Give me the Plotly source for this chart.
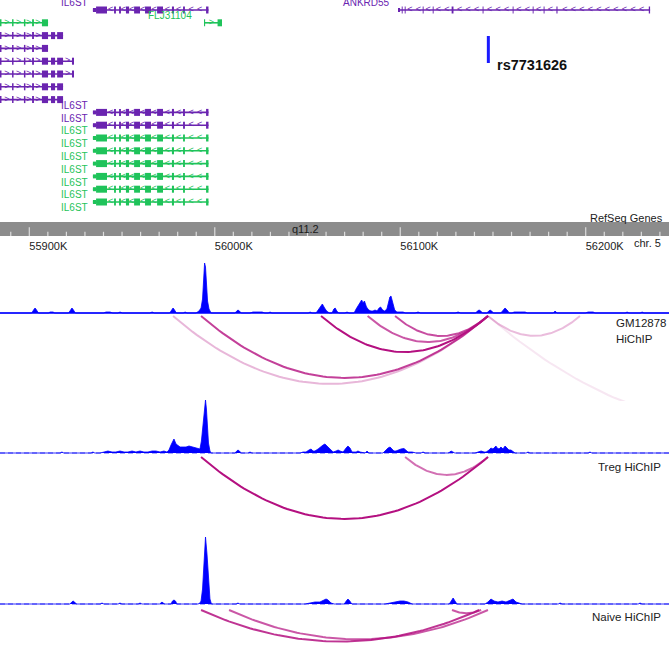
import plotly.graph_objects as go

# ============================ DATA ============================
X_RANGE = [55884.2, 56244.9]                      # kb, chr5 (hg38)
RULER_TICKS = [55900, 56000, 56100, 56200]
RULER_LABELS = ["55900K", "56000K", "56100K", "56200K"]
RULER_MINOR_STEP = 10
CHROM_LABEL = "chr. 5"
BAND_LABEL = "q11.2"

SNP_NAME = "rs7731626"
SNP_POS = 56147.5

# ---- RefSeq gene models (kb) ----
IL6ST_SPAN = [55934.3, 55996.6]
IL6ST_UTR = [[55934.3, 55936.0]]
IL6ST_EXONS = [[55936.0, 55941.9], [55945.7, 55946.7], [55948.4, 55949.4],
               [55952.1, 55953.8], [55956.5, 55959.7], [55962.4, 55965.6],
               [55968.9, 55972.1], [55976.9, 55978.0], [55982.9, 55983.9],
               [55995.3, 55996.6]]
IL6ST_ROWS = [0, 8, 9, 10, 11, 12, 13, 14, 15]
IL6ST_COLORS = ["purple", "purple", "purple", "green", "green", "green",
                "green", "green", "green"]
IL6ST_LABEL_ROWS = [0, 8, 9, 10, 11, 12, 13, 14, 15, 16]
IL6ST_LABEL_COLORS = ["purple", "purple", "purple", "green", "green", "green",
                      "green", "green", "green", "green"]

ANKRD55_SPAN = [56098.8, 56234.7]
ANKRD55_UTR = [[56098.8, 56099.9]]
ANKRD55_EXONS = [[56100.8, 56101.3], [56102.4, 56102.9], [56112.1, 56112.6],
                 [56117.5, 56118.0], [56127.7, 56128.7], [56144.4, 56144.9],
                 [56160.6, 56161.1], [56171.4, 56171.9], [56177.3, 56177.8],
                 [56184.2, 56184.8], [56234.0, 56234.7]]
ANKRD55_ROW = 0

FLJ_SPAN = [55994.2, 56003.9]
FLJ_EXONS = [[55994.2, 55994.8], [56001.5, 56003.9]]
FLJ_ROW = 1

LEFT_GENE_START = 55870.0
LEFT_ROWS = [1, 2, 3, 4, 5, 6, 7]
LEFT_COLORS = ["green", "purple", "purple", "purple", "purple", "purple", "purple"]
LEFT_ENDS = [55910.1, 55918.2, 55910.1, 55924.1, 55924.1, 55918.2, 55918.2]
LEFT_EXONS = [[55884.0, 55885.0], [55890.7, 55891.5], [55897.1, 55897.9],
              [55901.5, 55902.5], [55906.8, 55910.1], [55911.7, 55913.9],
              [55915.0, 55918.2], [55923.0, 55924.1]]

# ---- HiChIP coverage (signal) ----
GM_X = [55884.2,
        55901.3, 55902.3, 55903.1, 55903.9, 55904.9,
        55910.3, 55911.2, 55912.8, 55913.7,
        55921.2, 55922.2, 55923.0, 55923.8, 55924.8,
        55940.0, 55941.4, 55943.5, 55945.0,
        55947.8, 55948.9, 55950.2,
        55965.0, 55966.2, 55967.5,
        55975.7, 55976.7, 55977.5, 55978.3, 55979.3,
        55983.0, 55984.0, 55985.0,
        55989.9, 55991.5, 55992.6, 55993.4, 55993.9, 55994.5, 55995.0, 55995.5,
        55996.1, 55996.9, 55998.0,
        56010.8, 56011.7, 56012.5, 56013.3, 56014.2,
        56019.0, 56020.6, 56025.5, 56027.0,
        56028.8, 56029.8, 56030.8,
        56050.4, 56051.4, 56052.4,
        56054.6, 56056.2, 56057.3, 56058.0, 56059.2, 56060.3, 56061.8,
        56063.2, 56064.2, 56064.9, 56065.8, 56066.8,
        56070.2, 56071.3, 56072.4,
        56075.1, 56076.2, 56077.2, 56078.3, 56079.2, 56079.9, 56080.7, 56081.8,
        56083.0, 56084.2, 56085.3, 56086.4, 56087.5, 56088.6, 56089.4, 56090.5,
        56091.6, 56092.8, 56093.8, 56094.4, 56095.0, 56095.9, 56097.0, 56098.2,
        56099.9, 56101.5, 56102.8,
        56108.0, 56109.6, 56111.0,
        56129.6, 56131.2, 56132.6,
        56140.7, 56141.6, 56142.5, 56143.4, 56144.3,
        56146.6, 56147.5, 56148.4, 56149.3, 56150.2,
        56154.2, 56155.4, 56156.5, 56157.6, 56158.8,
        56160.3, 56161.4, 56164.6, 56167.3, 56168.6,
        56182.5, 56183.5, 56184.5,
        56199.8, 56201.3, 56204.0, 56205.0,
        56221.3, 56222.3, 56223.3,
        56229.4, 56230.4, 56231.4,
        56244.9]
GM_Y = [0,
        0, 3, 5, 3, 0,
        0, 1, 1, 0,
        0, 3, 5, 3, 0,
        0, 1, 1, 0,
        0, 1, 0,
        0, 1, 0,
        0, 3, 5, 3, 0,
        0, 1, 0,
        0, 2, 5, 14, 32, 50, 46, 28,
        12, 4, 0,
        0, 2, 3, 2, 0,
        0, 1, 1, 0,
        0, 1, 0,
        0, 1, 0,
        0, 4, 8, 9, 5, 2, 0,
        0, 4, 5, 2, 0,
        0, 1, 0,
        0, 4, 7, 11, 13, 10, 12, 6,
        3, 2, 2, 3, 2, 5, 6, 3,
        2, 4, 12, 16, 17, 10, 3, 1,
        1, 1, 0,
        0, 1, 0,
        0, 1, 0,
        0, 2, 3, 2, 0,
        0, 2, 3, 2, 0,
        0, 3, 5, 3, 0,
        0, 1, 1, 1, 0,
        0, 2, 0,
        0, 1, 1, 0,
        0, 1, 0,
        0, 1, 0,
        0]

TREG_X = [55884.2,
          55916.6, 55917.6, 55918.6,
          55933.3, 55934.3, 55935.3,
          55938.1, 55940.3, 55942.4, 55944.6, 55946.7, 55948.9, 55951.1, 55953.2,
          55955.4, 55957.5, 55959.7, 55961.8, 55964.0, 55966.2, 55968.3, 55970.5,
          55972.6, 55974.2, 55975.3, 55976.4, 55977.5, 55978.0, 55979.1, 55980.2,
          55981.3, 55982.9, 55984.5, 55986.1, 55987.7, 55989.3, 55991.0, 55992.0,
          55992.8, 55993.7, 55994.5, 55995.0, 55995.5, 55996.1, 55996.6, 55997.4,
          55998.0,
          56010.8, 56011.7, 56012.5, 56013.3, 56014.2,
          56018.0, 56019.0, 56020.0,
          56046.0, 56047.6, 56049.2, 56050.8, 56051.9, 56053.0, 56054.0, 56055.7,
          56057.3, 56058.4, 56059.4, 56060.5, 56061.6, 56062.7, 56063.8, 56065.4,
          56066.5, 56067.5, 56069.2, 56070.8, 56071.8, 56072.9, 56074.0, 56076.2,
          56077.2, 56078.3, 56079.9,
          56081.1, 56082.1, 56083.1,
          56090.7, 56092.3, 56093.4, 56094.5, 56095.6, 56096.6, 56097.7, 56098.8,
          56100.4, 56102.0, 56103.1, 56104.2, 56106.4, 56108.5,
          56111.2, 56112.3, 56113.4,
          56125.8, 56126.8, 56127.4, 56128.4, 56129.4,
          56140.3, 56141.9, 56143.6, 56145.2, 56146.3, 56147.9, 56148.9, 56150.0,
          56151.1, 56151.6, 56152.2, 56153.3, 56154.3, 56155.4, 56156.5, 56157.6,
          56158.6, 56159.7, 56160.8, 56161.9,
          56167.9, 56168.9, 56169.9,
          56201.3, 56202.3, 56203.3,
          56244.9]
TREG_Y = [0,
          0, 1, 0,
          0, 1, 0,
          0, 1, 2, 1, 1, 2, 1, 1,
          2, 1, 2, 1, 1, 2, 2, 1,
          2, 1, 3, 8, 13, 14, 9, 7,
          6, 6, 6, 7, 6, 5, 4, 4,
          12, 30, 50, 53, 44, 25, 10, 2,
          0,
          0, 2, 3, 2, 0,
          0, 1, 0,
          0, 1, 1, 3, 4, 2, 2, 4,
          7, 8, 9, 7, 4, 2, 1, 2,
          3, 2, 1, 5, 7, 5, 1, 1,
          2, 1, 0,
          0, 2, 0,
          0, 3, 5, 6, 4, 2, 2, 3,
          4, 4.5, 3, 1, 1, 0,
          0, 1, 0,
          0, 1, 2, 1, 0,
          0, 1, 2, 1, 1, 3, 5, 4,
          6, 7, 5, 4, 6, 4, 7, 5,
          3, 3, 1, 0,
          0, 1, 0,
          0, 1, 0,
          0]

NAIVE_X = [55884.2,
           55922.0, 55922.9, 55923.6, 55924.4, 55925.3,
           55938.2, 55939.2, 55940.2,
           55947.9, 55948.9, 55949.9,
           55958.7, 55959.7, 55960.7,
           55970.2, 55971.0, 55971.5, 55972.2, 55973.0,
           55976.4, 55977.2, 55978.0, 55978.8, 55979.6,
           55991.0, 55992.0, 55992.6, 55993.4, 55994.2, 55995.0, 55995.8, 55996.6,
           55997.4, 55998.2,
           56011.5, 56012.5, 56013.5,
           56048.7, 56051.4, 56054.0, 56056.7, 56058.4, 56060.0, 56061.1, 56062.7,
           56064.3,
           56069.8, 56070.9, 56071.8, 56072.8, 56073.9,
           56091.8, 56094.5, 56097.2, 56099.9, 56102.0, 56104.2, 56106.4,
           56126.4, 56127.5, 56128.5, 56129.5, 56130.6,
           56145.7, 56147.3, 56148.9, 56150.6, 56152.7, 56154.9, 56157.0, 56158.6,
           56160.8, 56162.4, 56164.0, 56165.7,
           56185.2, 56186.2, 56187.2,
           56228.3, 56229.3, 56230.3,
           56244.9]
NAIVE_Y = [0,
           0, 2, 3, 2, 0,
           0, 1, 0,
           0, 1, 0,
           0, 1, 0,
           0, 1, 2, 1, 0,
           0, 3, 4, 3, 0,
           0, 1, 3, 15, 40, 67, 50, 20,
           5, 0,
           0, 1, 0,
           0, 1, 2, 2, 4, 5, 4, 1,
           0,
           0, 3, 5, 3, 0,
           0, 1, 2, 3, 3, 2, 0,
           0, 3, 6, 3, 0,
           0, 2, 5, 3, 2, 3, 2, 3,
           5, 2, 1, 0,
           0, 1, 0,
           0, 1, 0,
           0]

# ---- HiChIP loops: anchor1, anchor2 (kb), strength 0..1 ----
GM_LOOP_A = [55977.5, 55992.6, 56057.3, 56082.4, 56097.2, 56147.3, 56147.3]
GM_LOOP_B = [56147.3, 56147.3, 56147.3, 56147.3, 56147.3, 56196.9, 56420.0]
GM_LOOP_S = [0.30, 0.80, 1.00, 0.70, 0.75, 0.28, 0.10]

TREG_LOOP_A = [55992.6, 56102.6]
TREG_LOOP_B = [56147.3, 56147.3]
TREG_LOOP_S = [1.00, 0.60]

NAIVE_LOOP_A = [55992.6, 56007.7, 56127.9]
NAIVE_LOOP_B = [56142.5, 56147.3, 56143.6]
NAIVE_LOOP_S = [0.85, 0.70, 0.70]

# ============================ STYLE ============================
FIG_W, FIG_H = 669, 648
FONT = "Liberation Sans, Arial, sans-serif"
GENE_COLORS = {"purple": "#6a24b0", "green": "#1fc35a"}
BLUE = "#0000ff"
ARC_RGB = (180, 16, 128)
TEXT = "#222222"
KB_PER_CHEVRON = 4.6


def py(px):
    return 1 - px / FIG_H


fig = go.Figure()

# ---------------------------- genes ----------------------------
backbone = {"purple": ([], []), "green": ([], [])}
thick = {"purple": ([], []), "green": ([], [])}
thin = {"purple": ([], []), "green": ([], [])}
chev = {("purple", "<"): ([], []), ("purple", ">"): ([], []),
        ("green", "<"): ([], []), ("green", ">"): ([], [])}


def add_gene(row, color, span, exons, utrs, strand):
    bx, by = backbone[color]
    bx += [span[0], span[1], None]
    by += [row, row, None]
    for s, e in exons:
        tx, ty = thick[color]
        tx += [s, e, None]
        ty += [row, row, None]
    for s, e in utrs:
        ux, uy = thin[color]
        ux += [s, e, None]
        uy += [row, row, None]
    blocks = sorted(exons + utrs)
    edges = [span[0]]
    for s, e in blocks:
        edges += [s, e]
    edges.append(span[1])
    cx, cy = chev[(color, strand)]
    for i in range(0, len(edges), 2):
        g0, g1 = max(edges[i], X_RANGE[0]), edges[i + 1]
        length = g1 - g0
        if length < 2.6:
            continue
        n = max(1, int((length + 1.0) / KB_PER_CHEVRON))
        first = g0 + (length - (n - 1) * KB_PER_CHEVRON) / 2
        for k in range(n):
            cx.append(first + k * KB_PER_CHEVRON)
            cy.append(row)


for r, c in zip(IL6ST_ROWS, IL6ST_COLORS):
    add_gene(r, c, IL6ST_SPAN, IL6ST_EXONS, IL6ST_UTR, "<")
add_gene(ANKRD55_ROW, "purple", ANKRD55_SPAN, ANKRD55_EXONS, ANKRD55_UTR, "<")
add_gene(FLJ_ROW, "green", FLJ_SPAN, FLJ_EXONS, [], ">")
for r, c, end in zip(LEFT_ROWS, LEFT_COLORS, LEFT_ENDS):
    ex = [e for e in LEFT_EXONS if e[1] <= end + 0.01]
    add_gene(r, c, [LEFT_GENE_START, end], ex, [], ">")

for c in ("purple", "green"):
    fig.add_trace(go.Scatter(x=backbone[c][0], y=backbone[c][1], mode="lines",
                             line=dict(color=GENE_COLORS[c], width=1.6),
                             xaxis="x", yaxis="y", hoverinfo="skip"))
    fig.add_trace(go.Scatter(x=thin[c][0], y=thin[c][1], mode="lines",
                             line=dict(color=GENE_COLORS[c], width=4),
                             xaxis="x", yaxis="y", hoverinfo="skip"))
    fig.add_trace(go.Scatter(x=thick[c][0], y=thick[c][1], mode="lines",
                             line=dict(color=GENE_COLORS[c], width=7),
                             xaxis="x", yaxis="y", hoverinfo="skip"))
for (c, s), (cx, cy) in chev.items():
    if cx:
        fig.add_trace(go.Scatter(x=cx, y=cy, mode="text", text=[s] * len(cx),
                                 textposition="middle center", cliponaxis=True,
                                 textfont=dict(color=GENE_COLORS[c], size=9, family=FONT),
                                 xaxis="x", yaxis="y", hoverinfo="skip"))

annotations = []
for r, c in zip(IL6ST_LABEL_ROWS, IL6ST_LABEL_COLORS):
    annotations.append(dict(x=IL6ST_SPAN[0] - 1.7, y=r - 0.55, xref="x", yref="y",
                            text="IL6ST", showarrow=False, xanchor="right",
                            font=dict(size=10, color=GENE_COLORS[c], family=FONT)))
annotations.append(dict(x=ANKRD55_SPAN[0] - 3.5, y=ANKRD55_ROW - 0.55, xref="x", yref="y",
                        text="ANKRD55", showarrow=False, xanchor="right",
                        font=dict(size=10, color=GENE_COLORS["purple"], family=FONT)))
annotations.append(dict(x=FLJ_SPAN[0] - 5.5, y=FLJ_ROW - 0.55, xref="x", yref="y",
                        text="FLJ31104", showarrow=False, xanchor="right",
                        font=dict(size=10, color=GENE_COLORS["green"], family=FONT)))

# SNP marker
shapes = [dict(type="line", xref="x", yref="paper", x0=SNP_POS, x1=SNP_POS,
               y0=py(36), y1=py(63), line=dict(color="#1a1aff", width=3))]
annotations.append(dict(x=SNP_POS, y=py(55), xref="x", yref="paper", xanchor="left",
                        xshift=7, text="<b>%s</b>" % SNP_NAME, showarrow=False,
                        font=dict(size=14.5, color="#111111", family=FONT)))

# ---------------------------- ruler ----------------------------
shapes.append(dict(type="rect", xref="paper", yref="paper", x0=0, x1=1,
                   y0=py(236), y1=py(222),
                   fillcolor="#8c8c8c", line=dict(width=0), layer="below"))
# tick marks on the ruler subplot, placed at genomic positions through the x scale
tick_x, tick_y = [], []
pos = RULER_TICKS[0]
while pos - RULER_MINOR_STEP >= X_RANGE[0]:
    pos -= RULER_MINOR_STEP
while pos <= X_RANGE[1]:
    tick_x += [pos, pos, None]
    tick_y += [0, 0.62 if pos in RULER_TICKS else 0.3, None]
    pos += RULER_MINOR_STEP
fig.add_trace(go.Scatter(x=tick_x, y=tick_y, mode="lines",
                         line=dict(color="#dcdcdc", width=1.2),
                         xaxis="x", yaxis="y2", hoverinfo="skip"))
annotations.append(dict(x=305 / FIG_W, y=py(229), xref="paper", yref="paper",
                        text=BAND_LABEL, showarrow=False,
                        font=dict(size=11, color="#1a1a1a", family=FONT)))
annotations.append(dict(x=663 / FIG_W, y=py(243), xref="paper", yref="paper",
                        xanchor="right", text=CHROM_LABEL, showarrow=False,
                        font=dict(size=11, color=TEXT, family=FONT)))
annotations.append(dict(x=665 / FIG_W, y=py(210), xref="paper", yref="paper",
                        xanchor="right", text="RefSeq Genes", showarrow=False,
                        font=dict(size=11, color=TEXT, family=FONT)))

# ------------------------- coverage + arcs -------------------------
def add_coverage(xs, ys, yaxis, dashed):
    fig.add_trace(go.Scatter(x=X_RANGE, y=[0, 0], mode="lines",
                             line=dict(color="#8c8cf5" if dashed else BLUE, width=1.5,
                                       dash="5px,3px" if dashed else "solid"),
                             xaxis="x", yaxis=yaxis, hoverinfo="skip"))
    fig.add_trace(go.Scatter(x=xs, y=ys, mode="lines", fill="tozeroy",
                             fillcolor=BLUE, line=dict(color=BLUE, width=0.8),
                             xaxis="x", yaxis=yaxis, hoverinfo="skip"))


def add_arcs(a_list, b_list, s_list, yaxis, depth_per_kb):
    for a, b, s in zip(a_list, b_list, s_list):
        d = depth_per_kb * abs(b - a)
        n = 80
        xs = [a + (b - a) * i / n for i in range(n + 1)]
        ys = [-4 * d * (i / n) * (1 - i / n) for i in range(n + 1)]
        fig.add_trace(go.Scatter(x=xs, y=ys, mode="lines",
                                 line=dict(color="rgba(%d,%d,%d,%.2f)" % (ARC_RGB + (s,)),
                                           width=2),
                                 xaxis="x", yaxis=yaxis, hoverinfo="skip"))


add_coverage(GM_X, GM_Y, "y3", False)
add_arcs(GM_LOOP_A, GM_LOOP_B, GM_LOOP_S, "y4", 0.40)
add_coverage(TREG_X, TREG_Y, "y5", True)
add_arcs(TREG_LOOP_A, TREG_LOOP_B, TREG_LOOP_S, "y6", 0.40)
add_coverage(NAIVE_X, NAIVE_Y, "y7", True)
add_arcs(NAIVE_LOOP_A, NAIVE_LOOP_B, NAIVE_LOOP_S, "y8", 0.21)

for txt, x, y, anchor in [("GM12878", 614, 323, "left"), ("HiChIP", 614, 339, "left"),
                          ("Treg HiChIP", 663, 475, "right"),
                          ("Naive HiChIP", 663, 625, "right")]:
    annotations.append(dict(x=x / FIG_W, y=py(y), xref="paper", yref="paper",
                            xanchor=anchor, text=txt, showarrow=False,
                            font=dict(size=11.5, color=TEXT, family=FONT)))

hidden = dict(visible=False, fixedrange=True)
fig.update_layout(
    width=FIG_W, height=FIG_H, margin=dict(l=0, r=0, t=0, b=0),
    paper_bgcolor="white", plot_bgcolor="rgba(0,0,0,0)", showlegend=False,
    font=dict(family=FONT, color=TEXT),
    xaxis=dict(range=X_RANGE, domain=[0, 1], anchor="y2", showgrid=False,
               zeroline=False, showline=False, tickmode="array",
               tickvals=RULER_TICKS, ticktext=RULER_LABELS, ticks="",
               ticklabelshift=19, ticklabelstandoff=2,
               tickfont=dict(size=11, color=TEXT, family=FONT)),
    yaxis=dict(domain=[py(218), 1], range=[16.25, -0.781], **hidden),
    yaxis2=dict(domain=[py(236), py(222)], range=[0, 1], **hidden),
    yaxis3=dict(domain=[py(315), py(259)], range=[-2, 54], **hidden),
    yaxis4=dict(domain=[py(401), py(315)], range=[-85, 1], **hidden),
    yaxis5=dict(domain=[py(455), py(398)], range=[-2, 55], **hidden),
    yaxis6=dict(domain=[py(530), py(456)], range=[-73, 1], **hidden),
    yaxis7=dict(domain=[py(606), py(533)], range=[-2, 71], **hidden),
    yaxis8=dict(domain=[0, py(609)], range=[-38, 1], **hidden),
    shapes=shapes, annotations=annotations,
)

fig.write_html("out.html", config={"displayModeBar": False},
               post_script="document.body.style.margin='0';document.body.style.overflow='hidden';")
